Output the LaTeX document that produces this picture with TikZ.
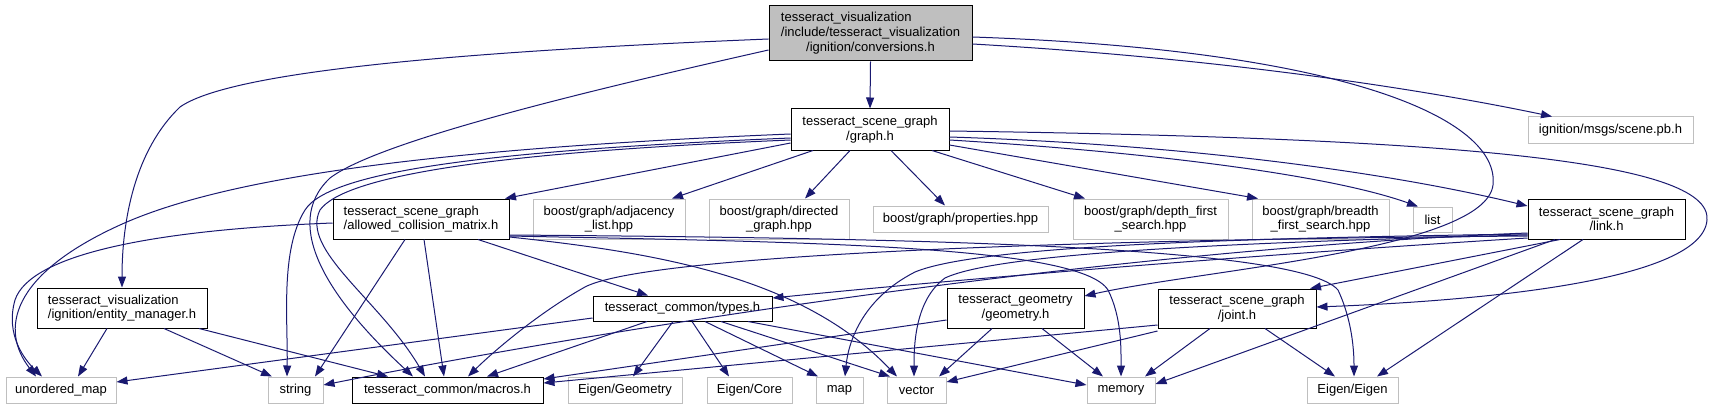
\documentclass[tikz,border=0pt]{standalone}
\usepackage{fontspec}
\setmainfont{Liberation Sans}
\usetikzlibrary{arrows.meta}
\definecolor{edgec}{HTML}{191970}
\definecolor{grayb}{HTML}{BFBFBF}
\begin{document}
\begin{tikzpicture}[x=1pt,y=-1pt,
  font=\fontsize{13}{14.7}\selectfont,
  box/.style={draw=black, line width=1pt, fill=white, inner sep=0pt, align=center},
  lbox/.style={draw=black, line width=1pt, fill=white, inner sep=0pt, align=left},
  extbox/.style={draw=grayb, line width=1pt, fill=white, inner sep=0pt, align=center},
  rootbox/.style={draw=black, line width=1pt, fill=grayb, inner sep=0pt},
  edge/.style={draw=edgec, line width=1pt, -{Triangle[length=11pt,width=8pt]}, line join=round}]
\useasboundingbox (0,0) rectangle (1712,409);
% nodes
\node[rootbox, minimum width=203pt, minimum height=55pt] (root) at (870.5,33.5)
  {\begin{tabular}{@{}l@{}}tesseract\_visualization\\/include/tesseract\_visualization\\\multicolumn{1}{@{}c@{}}{/ignition/conversions.h}\end{tabular}};
\node[box, minimum width=158pt, minimum height=41pt] (graph) at (870,129.5) {tesseract\_scene\_graph\\/graph.h};
\node[extbox, minimum width=165pt, minimum height=26pt] (scene) at (1610.5,130) {ignition/msgs/scene.pb.h};
\node[lbox, minimum width=176pt, minimum height=40pt] (acm) at (421,219) {tesseract\_scene\_graph\\/allowed\_collision\_matrix.h};
\node[extbox, minimum width=152pt, minimum height=40pt] (adj) at (609,219) {boost/graph/adjacency\\\_list.hpp};
\node[extbox, minimum width=140pt, minimum height=40pt] (dir) at (779,219) {boost/graph/directed\\\_graph.hpp};
\node[extbox, minimum width=175pt, minimum height=26pt] (prop) at (960.5,219) {boost/graph/properties.hpp};
\node[extbox, minimum width=155pt, minimum height=40pt] (dfs) at (1150.5,219) {boost/graph/depth\_first\\\_search.hpp};
\node[extbox, minimum width=137pt, minimum height=40pt] (bfs) at (1320.5,219) {boost/graph/breadth\\\_first\_search.hpp};
\node[extbox, minimum width=39pt, minimum height=25pt] (list) at (1432.5,219.5) {list};
\node[box, minimum width=157pt, minimum height=40pt] (link) at (1606.5,219) {tesseract\_scene\_graph\\/link.h};
\node[lbox, minimum width=170pt, minimum height=40pt] (em) at (122,308) {tesseract\_visualization\\/ignition/entity\_manager.h};
\node[box, minimum width=179pt, minimum height=25pt] (types) at (682.5,308.5) {tesseract\_common/types.h};
\node[box, minimum width=137pt, minimum height=40pt] (geom) at (1015.5,308) {tesseract\_geometry\\/geometry.h};
\node[box, minimum width=158pt, minimum height=39pt] (joint) at (1237,308.5) {tesseract\_scene\_graph\\/joint.h};
\node[extbox, minimum width=110pt, minimum height=26pt] (umap) at (61,390) {unordered\_map};
\node[extbox, minimum width=55pt, minimum height=26pt] (string) at (295.5,390) {string};
\node[box, minimum width=191pt, minimum height=26pt] (macros) at (447.5,390) {tesseract\_common/macros.h};
\node[extbox, minimum width=114pt, minimum height=26pt] (eigg) at (625,390) {Eigen/Geometry};
\node[extbox, minimum width=85pt, minimum height=26pt] (eigc) at (749.5,390) {Eigen/Core};
\node[extbox, minimum width=47pt, minimum height=26pt] (map) at (839.5,390) {map};
\node[extbox, minimum width=59pt, minimum height=26pt] (vector) at (916.5,390) {vector};
\node[extbox, minimum width=68pt, minimum height=26pt] (memory) at (1121,390) {memory};
\node[extbox, minimum width=91pt, minimum height=26pt] (eigen) at (1352.5,390) {Eigen/Eigen};
% root edges
\draw[edge] (root.south) -- (graph.north);
\draw[edge] (root.west |- 0,39) .. controls (450,52) and (230,72) .. (180,107) .. controls (135,150) and (122,220) .. (em.north);
\draw[edge] (root.west |- 0,50) .. controls (600,88) and (380,140) .. (330,178) .. controls (280,225) and (330,300) .. (macros.north -| 413,0);
\draw[edge] (root.east |- 0,44) .. controls (1250,60) and (1450,95) .. (scene.north -| 1552,0);
\draw[edge] (root.east |- 0,37) .. controls (1350,50) and (1500,120) .. (1493,185) .. controls (1485,250) and (1200,270) .. (geom.east |- 0,296);
% graph edges
\draw[edge] (graph.west |- 0,143) -- (acm.north -| 505,0);
\draw[edge] (graph.south -| 813,0) -- (adj.north -| 672,0);
\draw[edge] (graph.south -| 850,0) -- (dir.north -| 805,0);
\draw[edge] (graph.south -| 891,0) -- (prop.north -| 945,0);
\draw[edge] (graph.south -| 932,0) -- (dfs.north -| 1085,0);
\draw[edge] (graph.east |- 0,145) -- (bfs.north -| 1258,0);
\draw[edge] (graph.east |- 0,140) .. controls (1150,152) and (1330,175) .. (list.north -| 1418,0);
\draw[edge] (graph.east |- 0,137) .. controls (1200,145) and (1400,175) .. (link.west |- 0,206);
\draw[edge] (graph.east |- 0,131) .. controls (1450,138) and (1712,160) .. (1707,220) .. controls (1702,285) and (1450,302) .. (joint.east |- 0,307);
\draw[edge] (graph.west |- 0,134) .. controls (450,148) and (230,175) .. (120,225) .. controls (10,275) and (0,330) .. (umap.north -| 36,0);
\draw[edge] (graph.west |- 0,138) .. controls (500,150) and (330,170) .. (305,210) .. controls (280,250) and (288,320) .. (string.north -| 287,0);
\draw[edge] (graph.west |- 0,140) .. controls (500,152) and (345,175) .. (320,210) .. controls (300,250) and (380,300) .. (macros.north -| 425,0);
% acm edges
\draw[edge] (acm.west |- 0,223) .. controls (150,230) and (30,255) .. (15,300) .. controls (5,335) and (25,360) .. (umap.north -| 42,0);
\draw[edge] (acm.south -| 405,0) -- (string.north -| 315,0);
\draw[edge] (acm.south -| 424,0) -- (macros.north -| 444,0);
\draw[edge] (acm.south -| 478,0) -- (types.north -| 648,0);
\draw[edge] (acm.east |- 0,237) .. controls (650,252) and (800,275) .. (vector.north -| 897,0);
\draw[edge] (acm.east |- 0,236) .. controls (800,242) and (1080,245) .. (1108,290) .. controls (1122,318) and (1121,350) .. (memory.north -| 1121,0);
\draw[edge] (acm.east |- 0,235) .. controls (900,238) and (1300,245) .. (1338,290) .. controls (1352,320) and (1354,350) .. (eigen.north -| 1354,0);
% entity manager edges
\draw[edge] (em.south -| 107,0) -- (umap.north -| 78,0);
\draw[edge] (em.south -| 164,0) -- (string.north -| 272,0);
\draw[edge] (em.south -| 199,0) -- (macros.north -| 388,0);
% types edges
\draw[edge] (types.west |- 0,318) -- (umap.east |- 0,382);
\draw[edge] (types.south -| 647,0) -- (macros.north -| 487,0);
\draw[edge] (types.south -| 673,0) -- (eigg.north -| 633,0);
\draw[edge] (types.south -| 692,0) -- (eigc.north -| 729,0);
\draw[edge] (types.south -| 705,0) -- (map.north -| 818,0);
\draw[edge] (types.south -| 721,0) -- (vector.north -| 890,0);
\draw[edge] (types.south -| 748,0) -- (memory.west |- 0,385);
% geometry edges
\draw[edge] (geom.west |- 0,320) -- (macros.east |- 0,379);
\draw[edge] (geom.south -| 992,0) -- (vector.north -| 939,0);
\draw[edge] (geom.south -| 1042,0) -- (memory.north -| 1103,0);
% joint edges
\draw[edge] (joint.west |- 0,325) -- (macros.east |- 0,383);
\draw[edge] (joint.west |- 0,331) -- (vector.east |- 0,382);
\draw[edge] (joint.south -| 1210,0) -- (memory.north -| 1145,0);
\draw[edge] (joint.south -| 1265,0) -- (eigen.north -| 1335,0);
% link edges
\draw[edge] (link.west |- 0,233) .. controls (1100,250) and (600,330) .. (string.east |- 0,385);
\draw[edge] (link.west |- 0,236) .. controls (1000,240) and (640,258) .. (585,287) .. controls (540,312) and (495,350) .. (macros.north -| 468,0);
\draw[edge] (link.west |- 0,238) .. controls (1250,255) and (950,280) .. (types.east |- 0,298);
\draw[edge] (link.west |- 0,234) .. controls (1250,238) and (980,245) .. (915,272) .. controls (860,300) and (848,345) .. (map.north -| 845,0);
\draw[edge] (link.west |- 0,235) .. controls (1250,242) and (1000,252) .. (945,278) .. controls (915,300) and (914,345) .. (vector.north -| 914,0);
\draw[edge] (link.south -| 1560,0) -- (joint.north -| 1310,0);
\draw[edge] (link.south -| 1555,0) -- (memory.east |- 0,384);
\draw[edge] (link.south -| 1583,0) -- (eigen.north -| 1377,0);
\end{tikzpicture}
\end{document}
